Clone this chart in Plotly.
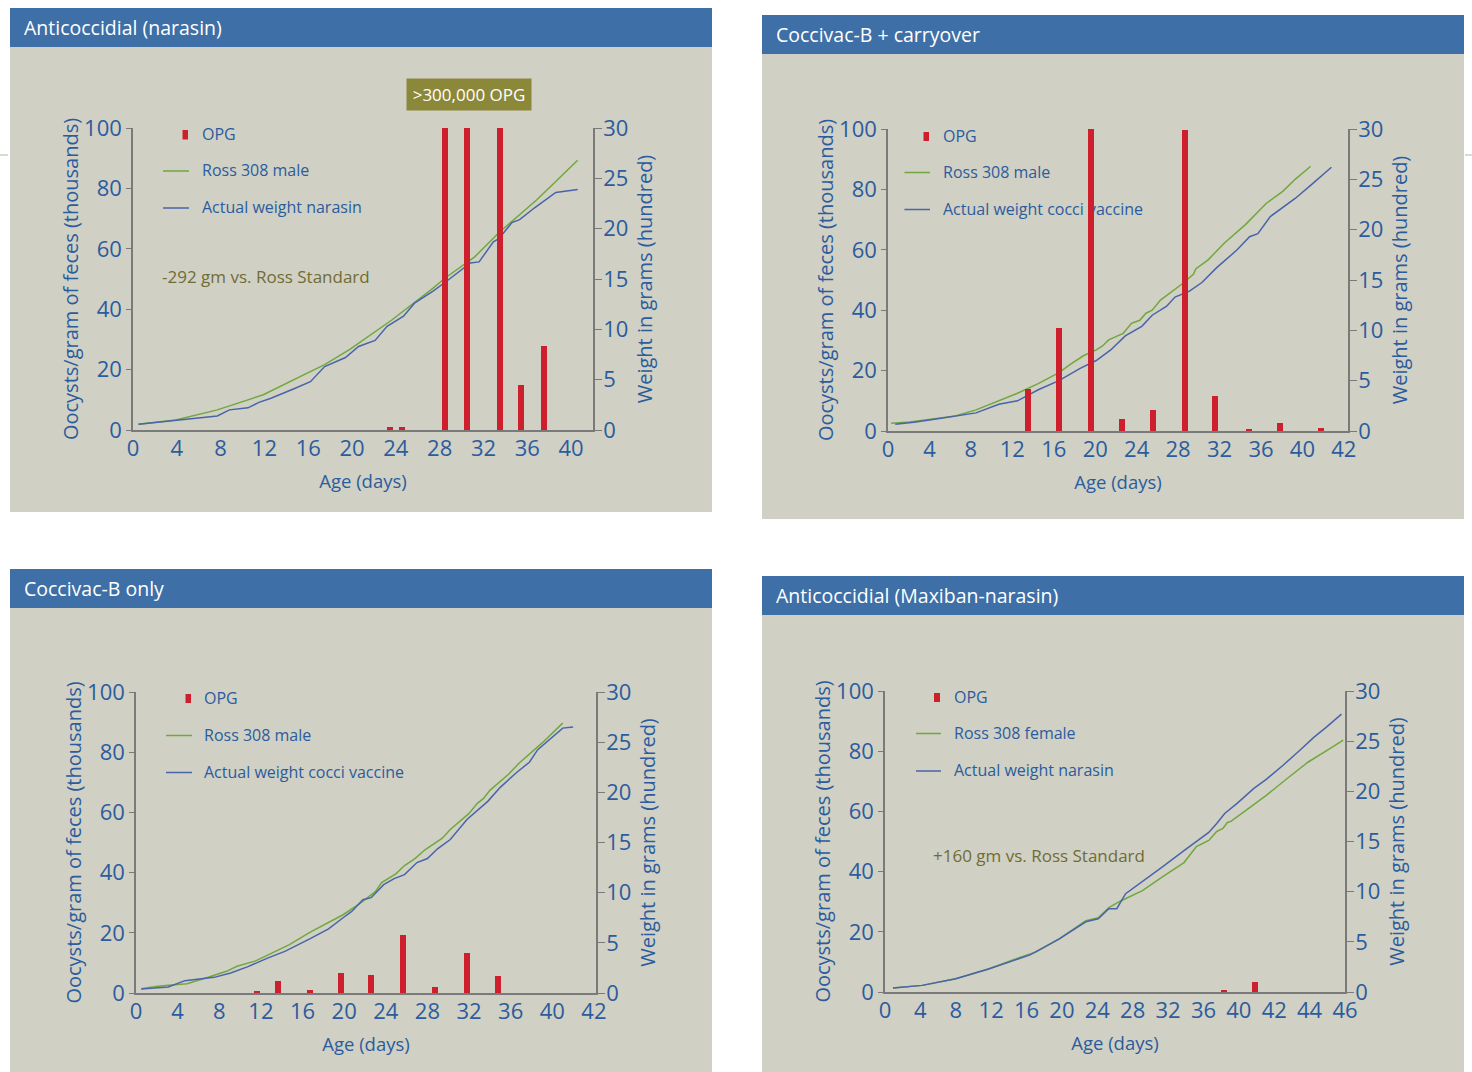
import plotly.graph_objects as go

W, H = 1472, 1072
FONT = "Open Sans"
BLUE_TXT = "rgb(43,92,158)"
GREEN = "rgb(112,168,62)"
LBLUE = "rgb(72,100,170)"
RED = "rgb(205,32,44)"
GRAY = "rgb(122,122,122)"
BG = "rgb(208,208,196)"
HEAD = "rgb(62,111,166)"
OLIVE_TXT = "rgb(112,108,52)"
OLIVE_BOX = "rgb(140,136,58)"

# ---------------- data ----------------
# Panel 1: Anticoccidial (narasin)
p1_bar_day = [23.5, 24.6, 28.5, 30.5, 33.5, 35.4, 37.5]
p1_opg = [1.0, 1.0, 101, 101, 101, 14.9, 27.8]
p1_ross_day = [0.5, 3.9, 7.7, 11.9, 16.0, 17.5, 19.8, 23.6, 27.4, 28.5, 31.2, 33.4, 36.9, 40.6]
p1_ross_w = [0.56, 1.0, 2.0, 3.5, 5.7, 6.5, 8.0, 10.9, 14.1, 15.1, 17.2, 19.6, 22.9, 26.8]
p1_act_day = [0.5, 3.9, 7.7, 8.8, 10.5, 11.5, 12.6, 14.7, 16.2, 17.5, 19.4, 20.6, 22.1, 23.2,
              24.7, 25.7, 27.4, 28.9, 30.8, 31.6, 32.9, 33.4, 34.6, 35.3, 36.7, 38.6, 40.6]
p1_act_w = [0.56, 0.93, 1.4, 2.0, 2.2, 2.75, 3.15, 4.1, 4.8, 6.3, 7.2, 8.3, 8.9, 10.3,
            11.3, 12.6, 13.8, 15.0, 16.6, 16.7, 18.7, 19.0, 20.6, 20.9, 22.1, 23.6, 23.9]

# Panel 2: Coccivac-B + carryover
p2_bar_day = [13.5, 16.5, 19.6, 22.6, 25.6, 28.7, 31.6, 34.8, 37.8, 41.8]
p2_opg = [13.9, 34.1, 100.0, 4.0, 7.0, 99.7, 11.7, 0.7, 2.8, 1.1]
p2_ross_day = [0.3, 2.1, 4.1, 6.5, 8.5, 10.5, 12.5, 14.5, 16.5, 17.7, 18.9, 20.1, 20.7, 21.3,
               22.7, 23.5, 24.3, 24.9, 25.5, 26.3, 27.5, 28.5, 29.5, 29.7, 30.9, 32.5, 34.5,
               36.5, 38.1, 39.3, 40.8]
p2_ross_w = [0.76, 0.9, 1.16, 1.5, 2.1, 2.9, 3.75, 4.7, 5.8, 6.7, 7.5, 8.05, 8.45, 9.05,
             9.7, 10.7, 11.0, 11.7, 12.0, 13.0, 13.9, 14.7, 15.6, 16.1, 17.0, 18.7, 20.5,
             22.6, 23.8, 25.0, 26.3]
p2_act_day = [0.7, 2.5, 4.5, 6.5, 8.5, 10.7, 12.5, 14.5, 16.5, 18.5, 20.1, 21.5, 22.9, 24.5,
              25.5, 26.9, 27.7, 29.1, 30.3, 31.7, 33.7, 34.9, 35.7, 36.9, 39.3, 40.9, 42.8]
p2_act_w = [0.66, 0.86, 1.16, 1.5, 1.8, 2.65, 3.0, 4.1, 5.0, 6.2, 7.0, 8.05, 9.45, 10.4,
            11.5, 12.4, 13.3, 13.9, 14.75, 16.2, 18.0, 19.3, 19.6, 21.3, 23.1, 24.5, 26.2]

# Panel 3: Coccivac-B only
p3_bar_day = [11.6, 13.6, 16.7, 19.7, 22.6, 25.7, 28.7, 31.8, 34.8]
p3_opg = [0.55, 3.9, 0.9, 6.5, 5.9, 19.4, 2.1, 13.2, 5.5]
p3_ross_day = [0.5, 1.9, 3.1, 4.9, 6.7, 8.7, 9.7, 11.5, 13.1, 14.7, 16.7, 18.3, 19.9, 21.5,
               23.0, 23.6, 25.0, 25.8, 26.8, 27.8, 29.4, 30.2, 32.0, 32.8, 33.4, 34.0, 35.8,
               36.8, 39.0, 41.0]
p3_ross_w = [0.43, 0.66, 0.76, 0.93, 1.5, 2.16, 2.66, 3.2, 4.0, 4.8, 6.05, 6.9, 7.8, 8.9,
             10.1, 11.0, 11.9, 12.7, 13.4, 14.3, 15.4, 16.3, 17.9, 18.9, 19.4, 20.2, 21.8,
             22.9, 24.9, 26.9]
p3_act_day = [0.5, 3.1, 4.7, 6.3, 7.5, 9.1, 10.7, 12.7, 14.3, 16.7, 18.5, 19.9, 20.7, 21.8,
              22.6, 23.8, 24.8, 25.8, 27.0, 28.0, 29.0, 30.2, 31.8, 33.8, 35.0, 36.6, 37.8,
              38.6, 39.8, 41.0, 42.0]
p3_act_w = [0.4, 0.6, 1.23, 1.4, 1.56, 2.0, 2.6, 3.5, 4.15, 5.4, 6.4, 7.5, 8.1, 9.3,
            9.5, 10.8, 11.4, 11.8, 13.0, 13.4, 14.4, 15.3, 17.3, 19.1, 20.5, 22.0, 23.0,
            24.25, 25.3, 26.4, 26.5]

# Panel 4: Anticoccidial (Maxiban-narasin)
p4_bar_day = [38.35, 41.8]
p4_opg = [0.55, 3.2]
p4_ross_day = [0.9, 4.2, 8.0, 11.7, 15.9, 17.1, 19.7, 22.7, 24.1, 25.3, 26.7, 29.1, 31.4,
               33.8, 35.2, 36.6, 37.5, 38.2, 38.7, 39.1, 40.8, 43.1, 45.5, 47.8, 50.2, 51.8]
p4_ross_w = [0.4, 0.66, 1.33, 2.3, 3.65, 4.0, 5.3, 7.1, 7.4, 8.4, 9.1, 10.1, 11.5,
             12.9, 14.5, 15.1, 16.0, 16.3, 16.9, 17.0, 18.1, 19.6, 21.3, 22.9, 24.2, 25.1]
p4_act_day = [0.9, 4.2, 8.0, 11.7, 16.4, 19.7, 22.7, 24.1, 25.3, 26.2, 27.2, 29.1, 31.4,
              33.8, 35.2, 36.6, 37.5, 38.4, 39.8, 41.7, 43.1, 45.0, 46.9, 48.5, 49.9, 51.6]
p4_act_w = [0.4, 0.66, 1.33, 2.3, 3.7, 5.3, 7.0, 7.3, 8.3, 8.3, 9.8, 11.0, 12.5,
            14.1, 15.0, 15.9, 16.8, 17.8, 18.8, 20.3, 21.2, 22.6, 24.1, 25.4, 26.4, 27.7]

opg_ticks = [0, 20, 40, 60, 80, 100]
wt_ticks = [0, 5, 10, 15, 20, 25, 30]
x_ticks_a = [0, 4, 8, 12, 16, 20, 24, 28, 32, 36, 40]
x_text_a = ["0", "4", "8", "12", "16", "20", "24", "28", "32", "36", "40"]
x_ticks_b = [0, 4, 8, 12, 16, 20, 24, 28, 32, 36, 40, 44]
x_text_b = ["0", "4", "8", "12", "16", "20", "24", "28", "32", "36", "40", "42"]
x_ticks_c = [0, 4, 8, 12, 16, 20, 24, 28, 32, 36, 40, 44, 48, 52]
x_text_c = ["0", "4", "8", "12", "16", "20", "24", "28", "32", "36", "40", "42", "44", "46"]

titles = ["Anticoccidial (narasin)", "Coccivac-B + carryover",
          "Coccivac-B only", "Anticoccidial (Maxiban-narasin)"]
ross_names = ["Ross 308 male", "Ross 308 male", "Ross 308 male", "Ross 308 female"]
act_names = ["Actual weight narasin", "Actual weight cocci vaccine",
             "Actual weight cocci vaccine", "Actual weight narasin"]

panels = [
    dict(bar_x=p1_bar_day, bar_y=p1_opg, rx=p1_ross_day, ry=p1_ross_w, ax=p1_act_day, ay=p1_act_w,
         tv=x_ticks_a, tt=x_text_a, xr=[0, 42.0], bw=0.55,
         dom_x=(133, 593), dom_y=(430, 128),
         head=(10, 712, 8, 47), bg_bottom=512,
         leg=dict(mark=(182.5, 188, 130, 139.5), line=(163, 189), text_x=199, ys=(135, 171, 208))),
    dict(bar_x=p2_bar_day, bar_y=p2_opg, rx=p2_ross_day, ry=p2_ross_w, ax=p2_act_day, ay=p2_act_w,
         tv=x_ticks_b, tt=x_text_b, xr=[0, 44.4], bw=0.58,
         dom_x=(888, 1348), dom_y=(431, 129),
         head=(762, 1464, 15, 54), bg_bottom=519,
         leg=dict(mark=(923.5, 929, 132, 141), line=(904.5, 930), text_x=940, ys=(136.5, 172.5, 209.5))),
    dict(bar_x=p3_bar_day, bar_y=p3_opg, rx=p3_ross_day, ry=p3_ross_w, ax=p3_act_day, ay=p3_act_w,
         tv=x_ticks_b, tt=x_text_b, xr=[0, 44.2], bw=0.58,
         dom_x=(136, 596), dom_y=(993, 692),
         head=(10, 712, 569, 608), bg_bottom=1072,
         leg=dict(mark=(185.5, 191, 694, 703), line=(166, 192), text_x=201, ys=(698.5, 735.5, 772.5))),
    dict(bar_x=p4_bar_day, bar_y=p4_opg, rx=p4_ross_day, ry=p4_ross_w, ax=p4_act_day, ay=p4_act_w,
         tv=x_ticks_c, tt=x_text_c, xr=[0, 52], bw=0.68,
         dom_x=(885, 1345), dom_y=(992, 691),
         head=(762, 1464, 576, 615), bg_bottom=1072,
         leg=dict(mark=(934, 940, 693, 702), line=(916, 941), text_x=951, ys=(697.5, 733.5, 771))),
]


def pxx(x):
    return x / W


def pyy(y):
    return 1 - y / H


fig = go.Figure()
shapes = []
annotations = []
tickfont = dict(family=FONT, size=22, color=BLUE_TXT)
ytitlefont = dict(family=FONT, size=20, color=BLUE_TXT)
xtitlefont = dict(family=FONT, size=18.5, color=BLUE_TXT)

for i, p in enumerate(panels, start=1):
    xa = f"x{i}" if i > 1 else "x"
    yw = f"y{2 * i - 1}" if i > 1 else "y"
    yo = f"y{2 * i}"
    xa_key = "xaxis" if i == 1 else f"xaxis{i}"
    yw_key = "yaxis" if i == 1 else f"yaxis{2 * i - 1}"
    yo_key = f"yaxis{2 * i}"

    # weight lines on base (right) axis
    fig.add_trace(go.Scatter(x=p["rx"], y=p["ry"], mode="lines", name=ross_names[i - 1],
                             line=dict(color=GREEN, width=1.5), xaxis=xa, yaxis=yw,
                             showlegend=False))
    fig.add_trace(go.Scatter(x=p["ax"], y=p["ay"], mode="lines", name=act_names[i - 1],
                             line=dict(color=LBLUE, width=1.5), xaxis=xa, yaxis=yw,
                             showlegend=False))
    # OPG bars on overlaying (left) axis, drawn above the lines
    fig.add_trace(go.Bar(x=p["bar_x"], y=p["bar_y"], width=p["bw"], name="OPG",
                         marker=dict(color=RED, line=dict(width=0)), xaxis=xa, yaxis=yo,
                         cliponaxis=False, showlegend=False))

    dx0, dx1 = p["dom_x"]
    dy0, dy1 = p["dom_y"]
    fig.layout[xa_key] = dict(
        domain=[pxx(dx0), pxx(dx1)], range=p["xr"], anchor=yw,
        showline=True, linecolor=GRAY, linewidth=1.6, showgrid=False, zeroline=False,
        ticks="", tickvals=p["tv"], ticktext=p["tt"], tickfont=tickfont,
        ticklabelstandoff=-2,
        title=dict(text="Age (days)", font=xtitlefont, standoff=14),
        automargin=False, fixedrange=True)
    fig.layout[yw_key] = dict(
        domain=[pyy(dy0), pyy(dy1)], range=[0, 30], anchor=xa, side="right",
        showline=True, linecolor=GRAY, linewidth=1.6, showgrid=False, zeroline=False,
        ticks="outside", ticklen=7, tickcolor=GRAY, tickwidth=1.4,
        tickvals=wt_ticks, tickfont=tickfont, ticklabelstandoff=-3,
        title=dict(text="Weight in grams (hundred)", font=ytitlefont, standoff=11),
        automargin=False, fixedrange=True)
    fig.layout[yo_key] = dict(
        range=[0, 100], anchor=xa, overlaying=yw, side="left",
        showline=True, linecolor=GRAY, linewidth=1.6, showgrid=False, zeroline=False,
        ticks="outside", ticklen=5, tickcolor=GRAY, tickwidth=1.4,
        tickvals=opg_ticks, tickfont=tickfont, ticklabelstandoff=0,
        title=dict(text="Oocysts/gram of feces (thousands)", font=ytitlefont, standoff=0),
        automargin=False, fixedrange=True)

    # panel background & header
    hx0, hx1, hy0, hy1 = p["head"]
    shapes.append(dict(type="rect", xref="paper", yref="paper", layer="below",
                       x0=pxx(hx0), x1=pxx(hx1), y0=pyy(p["bg_bottom"]), y1=pyy(hy1),
                       fillcolor=BG, line=dict(width=0)))
    shapes.append(dict(type="rect", xref="paper", yref="paper", layer="below",
                       x0=pxx(hx0), x1=pxx(hx1), y0=pyy(hy1), y1=pyy(hy0),
                       fillcolor=HEAD, line=dict(width=0)))
    annotations.append(dict(xref="paper", yref="paper", x=pxx(hx0 + 12), y=pyy((hy0 + hy1) / 2),
                            xanchor="left", yanchor="middle", showarrow=False,
                            text=titles[i - 1], font=dict(family=FONT, size=19.5, color="white")))

    # manual legend (text as shape labels in the lower layer so bars can cover it)
    lg = p["leg"]
    mx0, mx1, my0, my1 = lg["mark"]
    shapes.append(dict(type="rect", xref="paper", yref="paper", x0=pxx(mx0), x1=pxx(mx1),
                       y0=pyy(my1), y1=pyy(my0), fillcolor=RED, line=dict(width=0)))
    lx0, lx1 = lg["line"]
    shapes.append(dict(type="line", xref="paper", yref="paper", x0=pxx(lx0), x1=pxx(lx1),
                       y0=pyy(lg["ys"][1]), y1=pyy(lg["ys"][1]), line=dict(color=GREEN, width=1.5)))
    shapes.append(dict(type="line", xref="paper", yref="paper", x0=pxx(lx0), x1=pxx(lx1),
                       y0=pyy(lg["ys"][2]), y1=pyy(lg["ys"][2]), line=dict(color=LBLUE, width=1.5)))
    for txt, yy in zip(["OPG", ross_names[i - 1], act_names[i - 1]], lg["ys"]):
        shapes.append(dict(type="rect", xref="paper", yref="paper", layer="below",
                           x0=pxx(lg["text_x"]), x1=pxx(lg["text_x"] + 260),
                           y0=pyy(yy + 12), y1=pyy(yy - 12),
                           fillcolor="rgba(0,0,0,0)", line=dict(width=0),
                           label=dict(text=txt, textposition="middle left", padding=0,
                                      font=dict(family=FONT, size=16, color=BLUE_TXT))))

# notes
annotations.append(dict(xref="paper", yref="paper", x=pxx(160), y=pyy(277), xanchor="left",
                        yanchor="middle", showarrow=False, text="-292 gm vs. Ross Standard",
                        font=dict(family=FONT, size=17, color=OLIVE_TXT)))
annotations.append(dict(xref="paper", yref="paper", x=pxx(931), y=pyy(855), xanchor="left",
                        yanchor="middle", showarrow=False, text="+160 gm vs. Ross Standard",
                        font=dict(family=FONT, size=17, color=OLIVE_TXT)))
annotations.append(dict(xref="paper", yref="paper", x=pxx(469), y=pyy(94.5), xanchor="center",
                        yanchor="middle", showarrow=False, text=">300,000 OPG",
                        width=124, height=31, bgcolor=OLIVE_BOX, borderpad=0,
                        font=dict(family=FONT, size=17, color="white")))

# tiny edge marks
shapes.append(dict(type="line", xref="paper", yref="paper", x0=0, x1=pxx(8), y0=pyy(155),
                   y1=pyy(155), line=dict(color="rgb(200,210,190)", width=1.5)))
shapes.append(dict(type="line", xref="paper", yref="paper", x0=pxx(1465), x1=1, y0=pyy(155),
                   y1=pyy(155), line=dict(color="rgb(200,210,190)", width=1.5)))

fig.update_layout(
    width=W, height=H, margin=dict(l=0, r=0, t=0, b=0, autoexpand=False),
    paper_bgcolor="white", plot_bgcolor="rgba(0,0,0,0)",
    shapes=shapes, annotations=annotations, showlegend=False,
    bargap=0, font=dict(family=FONT, color=BLUE_TXT),
)

fig.write_html("out.html", config={"displayModeBar": False},
               post_script="document.body.style.margin='0';document.body.style.overflow='hidden';")
